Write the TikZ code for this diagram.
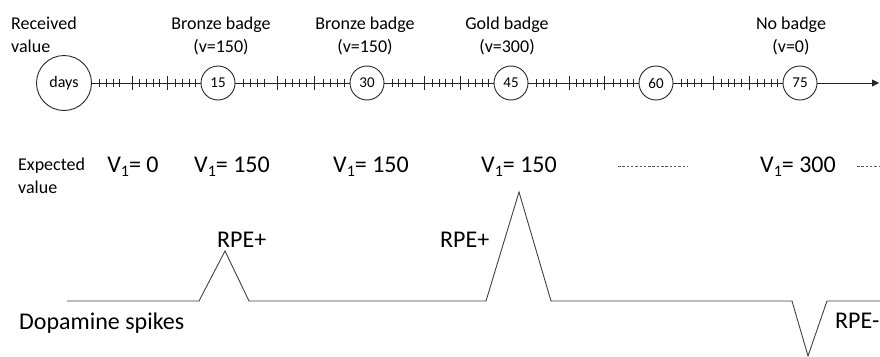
\documentclass[tikz,border=0pt]{standalone}
\usepackage{fontspec}
\setmainfont{Carlito}
\usetikzlibrary{arrows.meta,calc}
\begin{document}
\begin{tikzpicture}[x=1pt,y=-1pt,
  lbl/.style={font=\fontsize{18}{20}\selectfont, inner sep=0pt, text=black},
  biglbl/.style={font=\fontsize{24}{26}\selectfont, inner sep=0pt, text=black},
  daymark/.style={circle, draw=black!85, line width=0.9pt, inner sep=0pt,
                  minimum size=#1, font=\fontsize{15}{15}\selectfont},
  axisline/.style={draw=black!85, line width=0.9pt},
  tickline/.style={draw=black!85, line width=0.8pt},
  spikeline/.style={draw=black!75, line width=0.9pt, line join=miter},
  dashline/.style={draw=black!65, line width=0.6pt, dash pattern=on 2.5pt off 1.8pt}
]
\useasboundingbox (0,0) rectangle (880,356);

% ---- time axis with day markers ----
\node[daymark=55pt, font=\fontsize{16}{16}\selectfont] (d0) at (64,83) {days};
\node[daymark=34pt] (c15) at (218,83) {15};
\node[daymark=34pt] (c30) at (367,83) {30};
\node[daymark=34pt] (c45) at (511,83) {45};
\node[daymark=34pt] (c60) at (656,83) {60};
\node[daymark=34pt] (c75) at (800,83) {75};
\coordinate (axend) at (879,83);

\foreach \a/\b in {d0/c15,c15/c30,c30/c45,c45/c60,c60/c75}{
  \draw[axisline] (\a) -- (\b);
  \foreach \f in {8,15,22,29,50,57,64,71,88,95,102,109}
    \draw[tickline] ($(\a.east)!\f/114!(\b.west)$) +(0,-4) -- +(0,4);
  \foreach \f in {42,79}
    \draw[tickline] ($(\a.east)!\f/114!(\b.west)$) +(0,-7) -- +(0,7);
}
\draw[axisline, -{Triangle[length=7pt,width=7pt]}] (c75) -- (axend);

% ---- received value labels ----
\node[lbl, anchor=base west] (rv1) at (11,29) {Received};
\node[lbl, anchor=base west] (rv2) at (11,52) {value};

\node[lbl, anchor=base] (b15a) at (221,29) {Bronze badge};
\node[lbl, anchor=base] (b15b) at (221,52) {(v=150)};
\node[lbl, anchor=base] (b30a) at (365,29) {Bronze badge};
\node[lbl, anchor=base] (b30b) at (365,52) {(v=150)};
\node[lbl, anchor=base] (b45a) at (507,29) {Gold badge};
\node[lbl, anchor=base] (b45b) at (507,52) {(v=300)};
\node[lbl, anchor=base] (b75a) at (791,29) {No badge};
\node[lbl, anchor=base] (b75b) at (791,52) {(v=0)};

% ---- expected value row ----
\newcommand{\vsub}{V\raisebox{-4.5pt}{\fontsize{16}{16}\selectfont 1}}
\node[lbl, anchor=base west] (ev1) at (18,170) {Expected};
\node[lbl, anchor=base west] (ev2) at (18,193) {value};
\node[biglbl, anchor=base] (v0) at (133,172) {\vsub= 0};
\node[biglbl, anchor=base] (v1) at (232,172) {\vsub= 150};
\node[biglbl, anchor=base] (v2) at (371,172) {\vsub= 150};
\node[biglbl, anchor=base] (v3) at (519,172) {\vsub= 150};
\node[biglbl, anchor=base] (v4) at (798,172) {\vsub= 300};
\draw[dashline] (618,166) -- (688,166);
\draw[dashline] (857,166) -- (880,166);

% ---- dopamine trace ----
\draw[spikeline] (67,301) -- (199,301) -- (225,251) -- (249,301) -- (486,301)
  -- (519,192) -- (551,301) -- (792,301) -- (808,356) -- (827,301) -- (880,301);

\node[biglbl, anchor=base west] (rp1) at (217,247) {RPE+};
\node[biglbl, anchor=base west] (rp2) at (440,247) {RPE+};
\node[biglbl, anchor=base west] (rm) at (835,328) {RPE-};
\node[biglbl, anchor=base west] (dop) at (19,329) {Dopamine spikes};
\end{tikzpicture}
\end{document}
